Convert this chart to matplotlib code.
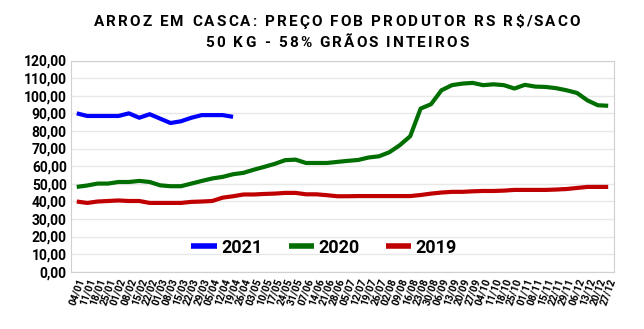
import matplotlib
matplotlib.use("Agg")
import matplotlib.pyplot as plt

# weekly dates (dd/mm)
weeks = ["04/01", "11/01", "18/01", "25/01", "01/02", "08/02", "15/02", "22/02",
         "01/03", "08/03", "15/03", "22/03", "29/03", "05/04", "12/04", "19/04",
         "26/04", "03/05", "10/05", "17/05", "24/05", "31/05", "07/06", "14/06",
         "21/06", "28/06", "05/07", "12/07", "19/07", "26/07", "02/08", "09/08",
         "16/08", "23/08", "30/08", "06/09", "13/09", "20/09", "27/09", "04/10",
         "11/10", "18/10", "25/10", "01/11", "08/11", "15/11", "22/11", "29/11",
         "06/12", "13/12", "20/12", "27/12"]

price_2021 = [90.0, 88.5, 88.5, 88.5, 88.5, 90.0, 87.5, 89.5, 87.0, 84.5, 85.5,
              87.5, 89.0, 89.0, 89.0, 88.0]

price_2020 = [48.2, 49.0, 50.1, 50.1, 51.0, 51.0, 51.6, 51.0, 49.1, 48.6, 48.6,
              50.1, 51.6, 53.0, 53.9, 55.4, 56.2, 58.0, 59.6, 61.3, 63.4, 63.7,
              61.8, 61.8, 61.8, 62.4, 63.0, 63.5, 64.9, 65.6, 67.9, 71.9, 77.0,
              92.7, 95.2, 103.1, 106.0, 106.9, 107.3, 106.0, 106.5, 106.0, 104.1,
              106.2, 105.2, 105.0, 104.3, 103.1, 101.6, 97.4, 94.6, 94.3]

price_2019 = [39.9, 39.1, 39.9, 40.2, 40.5, 40.2, 40.2, 39.1, 39.1, 39.1, 39.1,
              39.7, 39.9, 40.2, 42.1, 42.9, 43.9, 43.9, 44.2, 44.4, 44.8, 44.8,
              44.0, 44.0, 43.5, 42.9, 42.9, 43.0, 43.0, 43.0, 43.0, 43.0, 43.0,
              43.6, 44.4, 45.0, 45.4, 45.4, 45.7, 45.9, 45.9, 46.1, 46.5, 46.5,
              46.5, 46.5, 46.7, 47.0, 47.6, 48.2, 48.2, 48.2]

series = [("2021", price_2021, "#0000FF"),
          ("2020", price_2020, "#006E00"),
          ("2019", price_2019, "#C00000")]

yticks = list(range(0, 121, 10))

fig = plt.figure(figsize=(6.44, 3.29), dpi=100)
ax = fig.add_axes([0.1103, 0.174, 0.843, 0.642])

for label, vals, color in series:
    ax.plot(range(len(vals)), vals, color=color, lw=3.0, label=label,
            solid_capstyle="butt", solid_joinstyle="round")

ax.set_xlim(-0.55, len(weeks) - 1 + 0.55)
ax.set_ylim(0, 120)
ax.set_yticks(yticks)
ax.set_yticklabels([f"{v:.2f}".replace(".", ",") for v in yticks],
                   fontfamily="Roboto", fontweight="bold", fontsize=10)
ax.set_xticks(range(len(weeks)))
ax.set_xticklabels(weeks, rotation=70, ha="right", va="top",
                   rotation_mode="anchor", fontfamily="Roboto",
                   fontweight="bold", fontsize=7.5)
ax.tick_params(length=0, pad=3)
ax.tick_params(axis="x", pad=4)

ax.grid(axis="y", color="#E8E8E8", lw=1)
ax.set_axisbelow(True)
for side in ("left", "bottom"):
    ax.spines[side].set_color("#D0D0D0")
for side in ("top", "right"):
    ax.spines[side].set_color("#D0D0D0")
    ax.spines[side].set_linestyle((0, (1, 1)))

leg = ax.legend(ncol=3, loc="center", bbox_to_anchor=(0.466, 0.114),
                frameon=False, handlelength=1.4, handletextpad=0.25,
                columnspacing=1.45,
                prop={"family": "Roboto", "weight": "bold", "size": 13})
for line in leg.get_lines():
    line.set_linewidth(4)


def spaced_title(text, y, spacing, size=11):
    # lay out characters one by one to get wide letter spacing
    renderer = fig.canvas.get_renderer()
    widths = []
    for ch in text:
        t = fig.text(0, 0, ch if ch != " " else "i", fontsize=size,
                     fontfamily="Roboto", fontweight="bold")
        widths.append(t.get_window_extent(renderer).width)
        t.remove()
    total = sum(widths) + spacing * (len(text) - 1)
    x = 337 - total / 2
    for ch, w in zip(text, widths):
        fig.text(x / 644, y, ch, fontsize=size, fontfamily="Roboto",
                 fontweight="bold", ha="left", va="baseline")
        x += w + spacing


spaced_title("ARROZ EM CASCA: PREÇO FOB PRODUTOR RS R$/SACO", 0.921, 2.1)
spaced_title("50 KG - 58% GRÃOS INTEIROS", 0.858, 2.1)

fig.savefig("out.png", dpi=100)
